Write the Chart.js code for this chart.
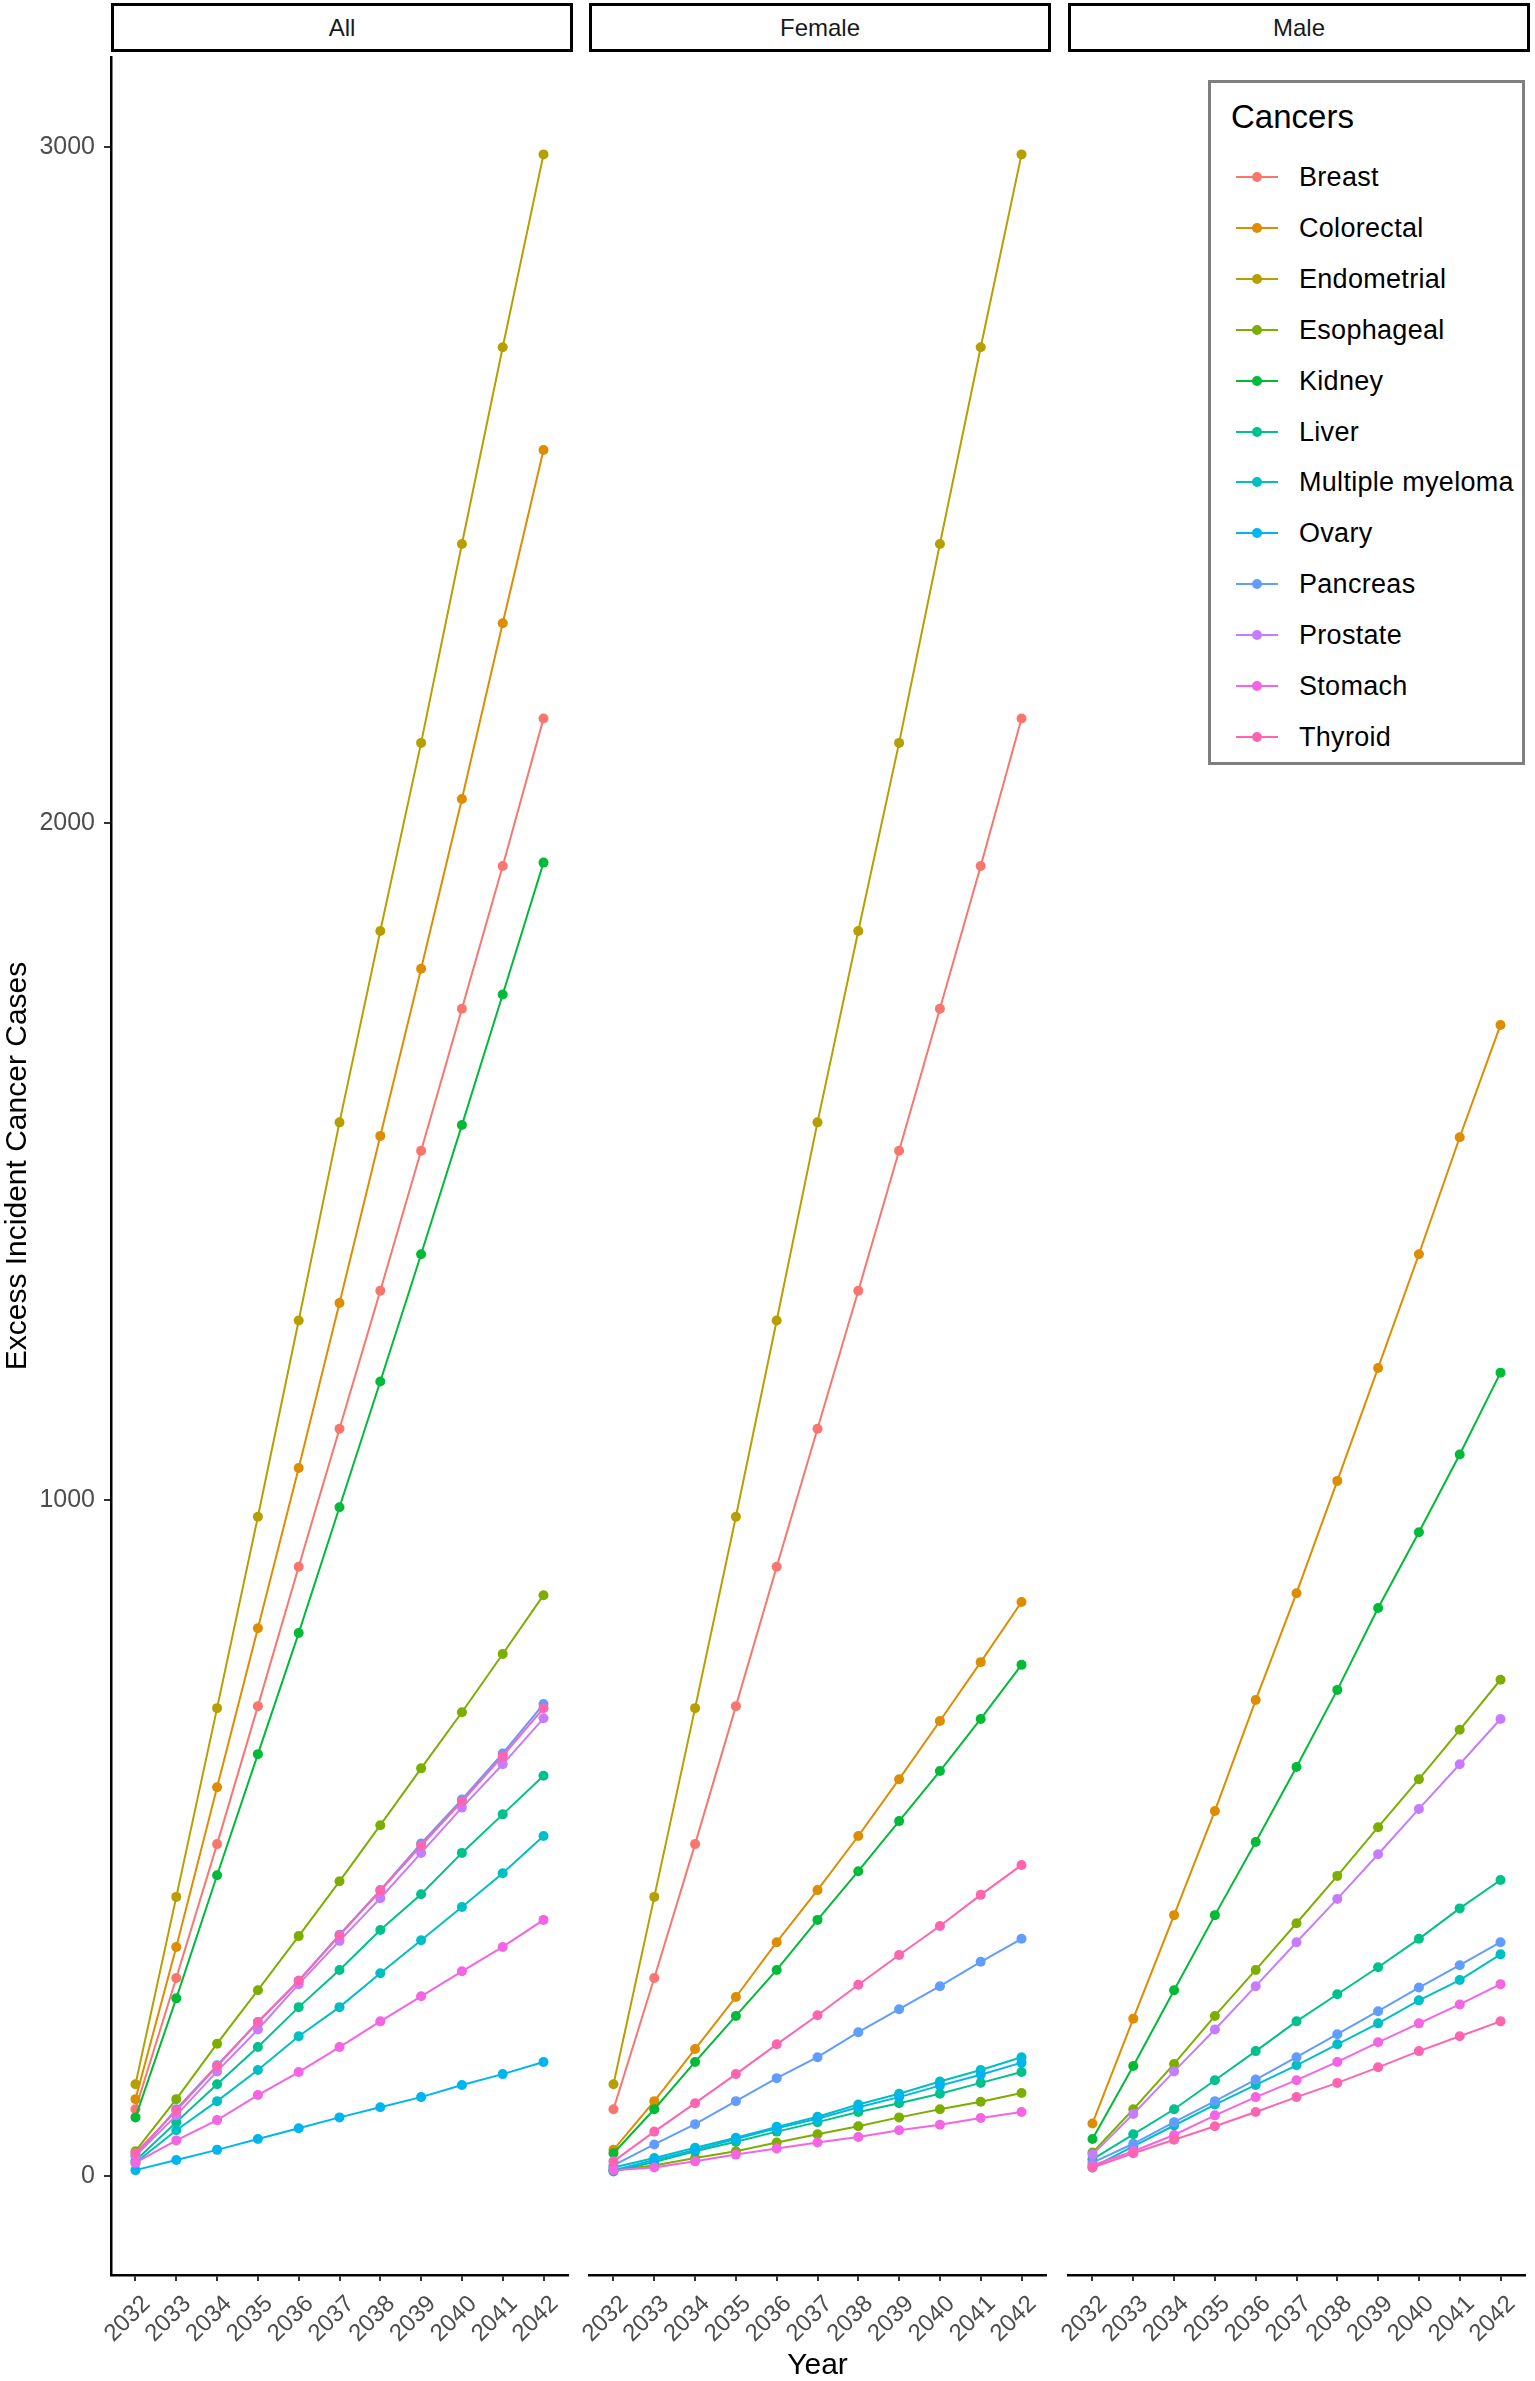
<!DOCTYPE html>
<html>
<head>
<meta charset="utf-8">
<script src="https://cdn.jsdelivr.net/npm/chart.js@4.4.0/dist/chart.umd.min.js"></script>
<style>
  body { margin: 0; background: #fff; width: 1535px; height: 2381px; position: relative; overflow: hidden;
         font-family: "Liberation Sans", Arial, sans-serif; }
  .strip { position: absolute; top: 3px; height: 49px; width: 462px; box-sizing: border-box; border: 3px solid #000;
           background: #fff; text-align: center; line-height: 43px; font-size: 24px; color: #1a1a1a; }
  canvas { position: absolute; top: 52px; }
  #legend { position: absolute; left: 1208px; top: 80px; width: 317px; height: 685px; box-sizing: border-box;
            border: 3px solid #7f7f7f; background: #fff; }
  #legend .title { position: absolute; left: 20px; top: 15px; font-size: 33px; color: #000; }
  #legend .row { position: absolute; left: 0; height: 50px; width: 100%; }
  #legend .key { position: absolute; left: 25px; top: 24px; width: 42px; height: 2px; }
  #legend .dot { position: absolute; left: 16px; top: -4px; width: 10px; height: 10px; border-radius: 50%; }
  #legend .lab { position: absolute; left: 88px; top: 0; line-height: 50px; font-size: 27px; color: #000;
                 white-space: nowrap; letter-spacing: 0.3px; }
</style>
</head>
<body>
<div class="strip" style="left:111px">All</div>
<div class="strip" style="left:589px">Female</div>
<div class="strip" style="left:1068px">Male</div>
<canvas id="cAll" width="573" height="2329" style="left:0px"></canvas>
<canvas id="cFemale" width="502" height="2329" style="left:549px"></canvas>
<canvas id="cMale" width="502" height="2329" style="left:1028px"></canvas>
<div id="legend"><div class="title">Cancers</div></div>
<script>
// years and categories
var years = [2032, 2033, 2034, 2035, 2036, 2037, 2038, 2039, 2040, 2041, 2042];
var cancers = ["Breast", "Colorectal", "Endometrial", "Esophageal", "Kidney", "Liver",
               "Multiple myeloma", "Ovary", "Pancreas", "Prostate", "Stomach", "Thyroid"];
var colors = ["#F8766D", "#DE8C00", "#B79F00", "#7CAE00", "#00BA38", "#00C08B",
              "#00BFC4", "#00B4F0", "#619CFF", "#C77CFF", "#F564E3", "#FF64B0"];
var yTicks = [0, 1000, 2000, 3000];

// All
var allBreast      = [99, 293, 491, 695, 901, 1105, 1309, 1516, 1726, 1937, 2155];
var allColorectal  = [114, 339, 575, 810, 1047, 1291, 1538, 1785, 2036, 2296, 2552];
var allEndometrial = [136, 413, 692, 975, 1265, 1558, 1841, 2119, 2413, 2704, 2989];
var allEsophageal  = [37, 114, 196, 275, 355, 436, 519, 603, 686, 772, 859];
var allKidney      = [87, 263, 445, 624, 803, 989, 1175, 1363, 1554, 1747, 1942];
var allLiver       = [23, 80, 136, 191, 250, 305, 364, 417, 478, 535, 592];
var allMyeloma     = [20, 68, 111, 157, 207, 250, 300, 349, 398, 448, 503];
var allOvary       = [9, 24, 39, 55, 71, 87, 102, 117, 135, 151, 169];
var allPancreas    = [30, 99, 164, 228, 289, 357, 423, 492, 557, 625, 698];
var allProstate    = [30, 90, 155, 217, 284, 348, 411, 478, 545, 609, 677];
var allStomach     = [20, 53, 83, 120, 154, 191, 229, 266, 303, 339, 379];
var allThyroid     = [34, 97, 163, 228, 289, 356, 422, 489, 554, 621, 692];

// Female
var femBreast      = [99, 293, 491, 695, 901, 1105, 1309, 1516, 1726, 1937, 2155];
var femColorectal  = [39, 111, 188, 265, 346, 423, 503, 587, 673, 760, 849];
var femEndometrial = [136, 413, 692, 975, 1265, 1558, 1841, 2119, 2413, 2704, 2989];
var femEsophageal  = [9, 16, 27, 37, 50, 62, 74, 87, 99, 110, 123];
var femKidney      = [34, 99, 169, 237, 305, 379, 451, 525, 599, 676, 756];
var femLiver       = [7, 21, 37, 51, 66, 80, 95, 108, 122, 138, 154];
var femMyeloma     = [13, 27, 42, 57, 73, 88, 106, 122, 140, 157, 176];
var femOvary       = [9, 24, 39, 55, 71, 85, 102, 117, 134, 150, 168];
var femPancreas    = [16, 47, 77, 111, 145, 176, 213, 247, 281, 317, 351];
var femStomach     = [9, 13, 22, 32, 41, 50, 58, 68, 76, 86, 95];
var femThyroid     = [22, 66, 108, 151, 195, 238, 283, 327, 370, 416, 460];

// Male
var malColorectal  = [78, 233, 386, 540, 704, 862, 1028, 1195, 1363, 1536, 1702];
var malEsophageal  = [35, 99, 166, 237, 305, 374, 444, 516, 587, 660, 734];
var malKidney      = [55, 163, 275, 386, 494, 605, 719, 840, 952, 1067, 1188];
var malLiver       = [25, 62, 99, 142, 185, 229, 269, 309, 351, 396, 438];
var malMyeloma     = [13, 44, 75, 106, 135, 164, 195, 226, 260, 290, 328];
var malPancreas    = [20, 48, 80, 111, 143, 176, 210, 244, 279, 312, 346];
var malProstate    = [32, 92, 155, 217, 281, 346, 410, 476, 543, 609, 676];
var malStomach     = [16, 37, 61, 90, 117, 142, 169, 198, 226, 254, 284];
var malThyroid     = [13, 34, 54, 74, 95, 117, 138, 161, 185, 207, 229];

var FONT = "'Liberation Sans', Arial, sans-serif";

function series(name, values) {
  var i = cancers.indexOf(name);
  return {
    label: name,
    data: values.map(function (v, k) { return { x: years[k], y: v }; }),
    borderColor: colors[i],
    backgroundColor: colors[i],
    borderWidth: 2,
    pointRadius: 5,
    pointBorderWidth: 0,
    pointHoverRadius: 5,
    tension: 0,
    order: 12 - i   // later factors drawn on top, like ggplot
  };
}

function panelOptions(showY, showXTitle, padLeft) {
  return {
    responsive: false,
    animation: false,
    layout: { padding: { left: padLeft, right: 0, top: 0, bottom: 0 } },
    plugins: { legend: { display: false }, tooltip: { enabled: false } },
    scales: {
      x: {
        type: 'linear', min: 2031.4, max: 2042.6,
        afterBuildTicks: function (s) { s.ticks = years.map(function (v) { return { value: v }; }); },
        afterFit: function (s) { s.height = 106; s.paddingLeft = 0; s.paddingRight = 0; },
        grid: { drawOnChartArea: false, drawTicks: true, tickLength: 6, color: '#333', lineWidth: 2 },
        border: { display: true, color: '#000', width: 2.5 },
        ticks: {
          autoSkip: false, minRotation: 45, maxRotation: 45, padding: 9, labelOffset: 11,
          color: '#4D4D4D', font: { family: FONT, size: 24 },
          callback: function (v) { return String(v); }
        },
        title: { display: showXTitle, text: 'Year', color: '#000',
                 font: { family: FONT, size: 30, lineHeight: 1 }, padding: { top: 0, bottom: 0 } }
      },
      y: {
        display: showY, min: -146, max: 3133,
        afterBuildTicks: function (s) { s.ticks = yTicks.map(function (v) { return { value: v }; }); },
        afterFit: function (s) { if (showY) { s.width = 111; } s.paddingTop = 0; s.paddingBottom = 0; },
        grid: { drawOnChartArea: false, drawTicks: true, tickLength: 7, color: '#333', lineWidth: 2 },
        border: { display: true, color: '#000', width: 2.5 },
        ticks: { padding: 9, color: '#4D4D4D', font: { family: FONT, size: 25 },
                 callback: function (v) { return String(v); } },
        title: { display: showY, text: 'Excess Incident Cancer Cases', color: '#000',
                 font: { family: FONT, size: 30 }, padding: 0 }
      }
    }
  };
}

new Chart(document.getElementById('cAll'), {
  type: 'line',
  data: { datasets: [
    series('Breast', allBreast), series('Colorectal', allColorectal), series('Endometrial', allEndometrial),
    series('Esophageal', allEsophageal), series('Kidney', allKidney), series('Liver', allLiver),
    series('Multiple myeloma', allMyeloma), series('Ovary', allOvary), series('Pancreas', allPancreas),
    series('Prostate', allProstate), series('Stomach', allStomach), series('Thyroid', allThyroid)
  ] },
  options: panelOptions(true, false, 0)
});

new Chart(document.getElementById('cFemale'), {
  type: 'line',
  data: { datasets: [
    series('Breast', femBreast), series('Colorectal', femColorectal), series('Endometrial', femEndometrial),
    series('Esophageal', femEsophageal), series('Kidney', femKidney), series('Liver', femLiver),
    series('Multiple myeloma', femMyeloma), series('Ovary', femOvary), series('Pancreas', femPancreas),
    series('Stomach', femStomach), series('Thyroid', femThyroid)
  ] },
  options: panelOptions(false, true, 40)
});

new Chart(document.getElementById('cMale'), {
  type: 'line',
  data: { datasets: [
    series('Colorectal', malColorectal), series('Esophageal', malEsophageal), series('Kidney', malKidney),
    series('Liver', malLiver), series('Multiple myeloma', malMyeloma), series('Pancreas', malPancreas),
    series('Prostate', malProstate), series('Stomach', malStomach), series('Thyroid', malThyroid)
  ] },
  options: panelOptions(false, false, 40)
});

// legend
var legend = document.getElementById('legend');
cancers.forEach(function (name, i) {
  var row = document.createElement('div');
  row.className = 'row';
  row.style.top = (69 + i * 50.9) + 'px';
  row.innerHTML = '<div class="key" style="background:' + colors[i] + '"><div class="dot" style="background:' +
    colors[i] + '"></div></div><div class="lab">' + name + '</div>';
  legend.appendChild(row);
});
</script>
</body>
</html>
